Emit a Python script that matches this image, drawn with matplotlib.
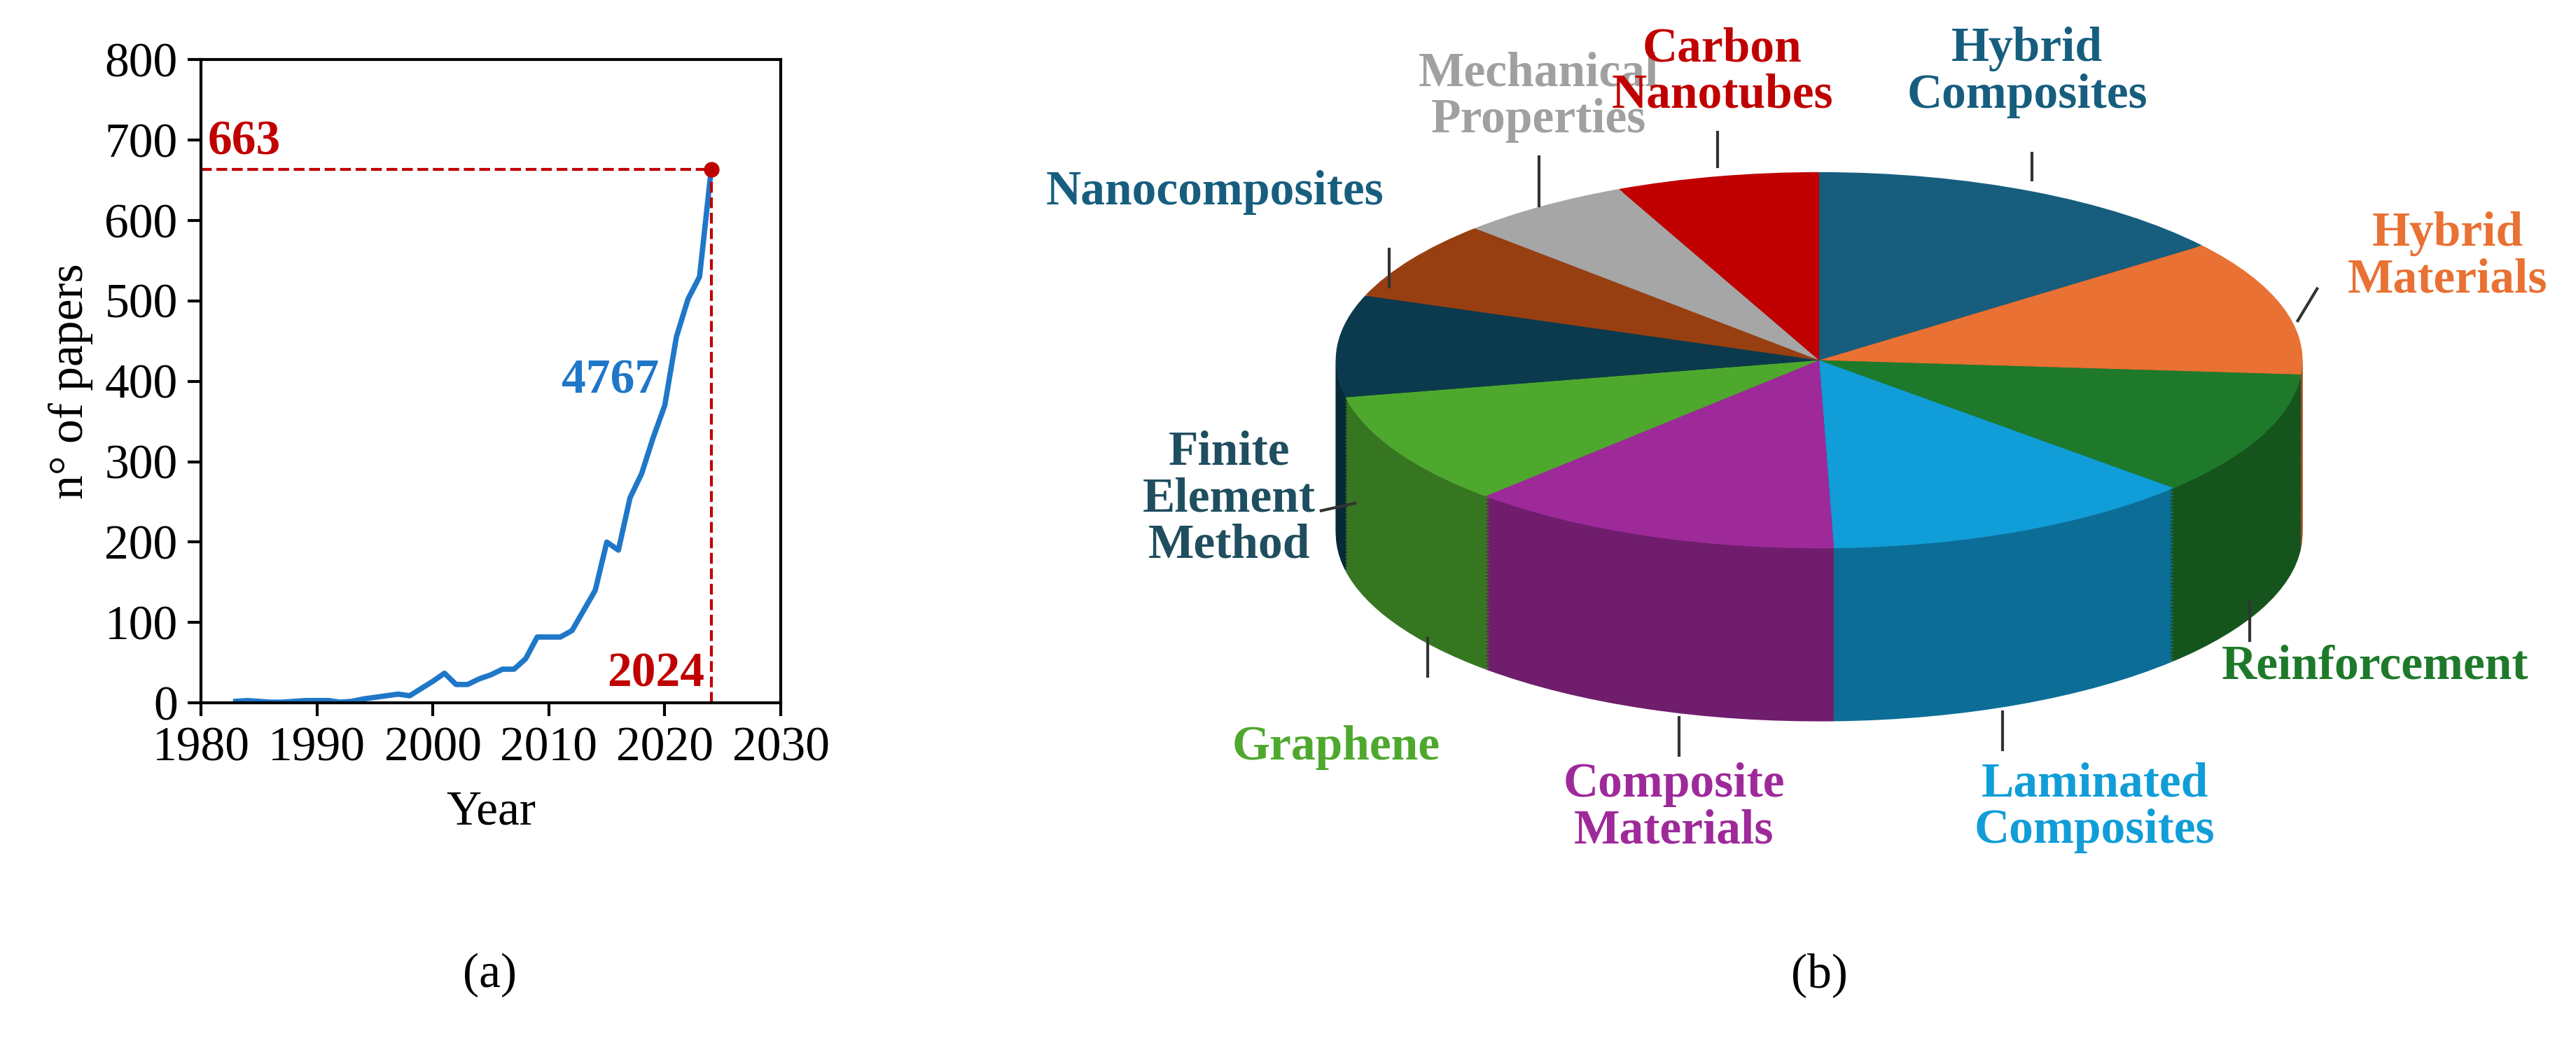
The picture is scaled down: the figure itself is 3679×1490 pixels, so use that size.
import numpy as np
import matplotlib.pyplot as plt
import matplotlib.colors as mcolors

plt.rcParams['font.family'] = ['Liberation Serif', 'DejaVu Serif']

# (a) papers per year
years = list(range(1983, 2025))
papers = [2, 3, 2, 1, 1, 2, 3, 3, 3, 1, 2, 5, 7, 9, 11, 9,
          18, 27, 37, 23, 23, 30, 35, 42, 42, 55,
          82, 82, 82, 90, 115, 140,
          200, 190, 255, 285, 330, 370, 455, 502, 530, 663]

# (b) keywords
topics = ["Hybrid\nComposites", "Hybrid\nMaterials", "Reinforcement", "Laminated\nComposites",
          "Composite\nMaterials", "Graphene", "Finite\nElement\nMethod", "Nanocomposites",
          "Mechanical\nProperties", "Carbon\nNanotubes"]
shares = [15, 12, 11, 13, 13, 10, 9, 7, 6, 7]
colors = ["#175E7E", "#E87133", "#1E7A2A", "#119DD8", "#9E2A9A",
          "#4FA82E", "#0B3A4E", "#983F12", "#A6A6A6", "#C00000"]
text_colors = ["#175E7E", "#E87133", "#1E7A2A", "#119DD8", "#9E2A9A",
               "#4FA82E", "#1F4E5F", "#175E7E", "#A0A0A0", "#C00000"]

fig = plt.figure(figsize=(36.8, 14.9), dpi=100)

red = "#C00000"
blue = "#1F77C8"
fs = 50
ax = fig.add_axes([0.078, 0.326, 0.225, 0.617])
ax.plot(years, papers, color=blue, lw=5.5)
ax.plot([years[-1]], [papers[-1]], 'o', color=red, ms=15)
ax.plot([1980, years[-1]], [papers[-1]] * 2, '--', color=red, lw=3)
ax.plot([years[-1]] * 2, [0, papers[-1]], '--', color=red, lw=3)
ax.text(1980.6, papers[-1] + 6, str(papers[-1]), color=red, fontsize=fs, fontweight='bold', va='bottom')
ax.text(years[-1] - 0.6, 8, str(years[-1]), color=red, fontsize=fs, fontweight='bold', ha='right', va='bottom')
ax.text(2015.3, 400, str(sum(papers)), color=blue, fontsize=fs, fontweight='bold', ha='center', va='center')
ax.set_xlim(1980, 2030)
ax.set_ylim(0, 800)
ax.set_xticks(range(1980, 2031, 10))
ax.set_yticks(range(0, 801, 100))
ax.tick_params(labelsize=fs, width=3, length=14, pad=10)
for s in ax.spines.values():
    s.set_linewidth(3)
ax.set_xlabel("Year", fontsize=fs, labelpad=20)
ax.set_ylabel("n° of papers", fontsize=fs, labelpad=12)
fig.text(0.19, 0.065, "(a)", fontsize=fs, ha='center', va='center')
fig.text(0.706, 0.065, "(b)", fontsize=fs, ha='center', va='center')

# (b) pseudo-3D pie
pax = fig.add_axes([0.509, 0.321, 0.394, 0.532])
depth = 0.92
side = [tuple(v * 0.7 for v in mcolors.to_rgb(c)) for c in colors]
for off in np.linspace(-depth, -0.02, 50):
    w, _ = pax.pie(shares, colors=side, startangle=90, counterclock=False,
                   center=(0, off), radius=1)
    for p in w:
        p.set_linewidth(0)
pax.pie(shares, colors=colors, startangle=90, counterclock=False, center=(0, 0), radius=1,
        wedgeprops=dict(linewidth=0))
pax.set_aspect('auto')
pax.set_xlim(-1.05, 1.05)
pax.set_ylim(-1.85, 1.1)
pax.axis('off')

# label positions (text) and leader lines
label_xy = [(0.43, 1.53), (1.3, 0.55), (1.15, -1.63), (0.57, -2.38), (-0.3, -2.38),
            (-1.0, -2.06), (-1.22, -0.74), (-1.25, 0.89), (-0.58, 1.4), (-0.2, 1.53)]
leaders = [((0.44, 1.1), (0.44, 0.96)), ((1.03, 0.38), (0.99, 0.21)), ((0.89, -1.29), (0.89, -1.49)),
           ((0.38, -1.87), (0.38, -2.07)), ((-0.29, -1.9), (-0.29, -2.1)), ((-0.81, -1.48), (-0.81, -1.68)),
           ((-1.03, -0.8), (-0.96, -0.76)), ((-0.89, 0.59), (-0.89, 0.39)), ((-0.58, 1.08), (-0.58, 0.82)),
           ((-0.21, 1.21), (-0.21, 1.03))]
for t, c, (x, y), (a, b) in zip(topics, text_colors, label_xy, leaders):
    pax.text(x, y, t, color=c, fontsize=fs, fontweight='bold', ha='center', va='center',
             linespacing=1.05, clip_on=False)
    pax.plot([a[0], b[0]], [a[1], b[1]], color='#333333', lw=3, clip_on=False)

fig.savefig("out.png", dpi=100)
